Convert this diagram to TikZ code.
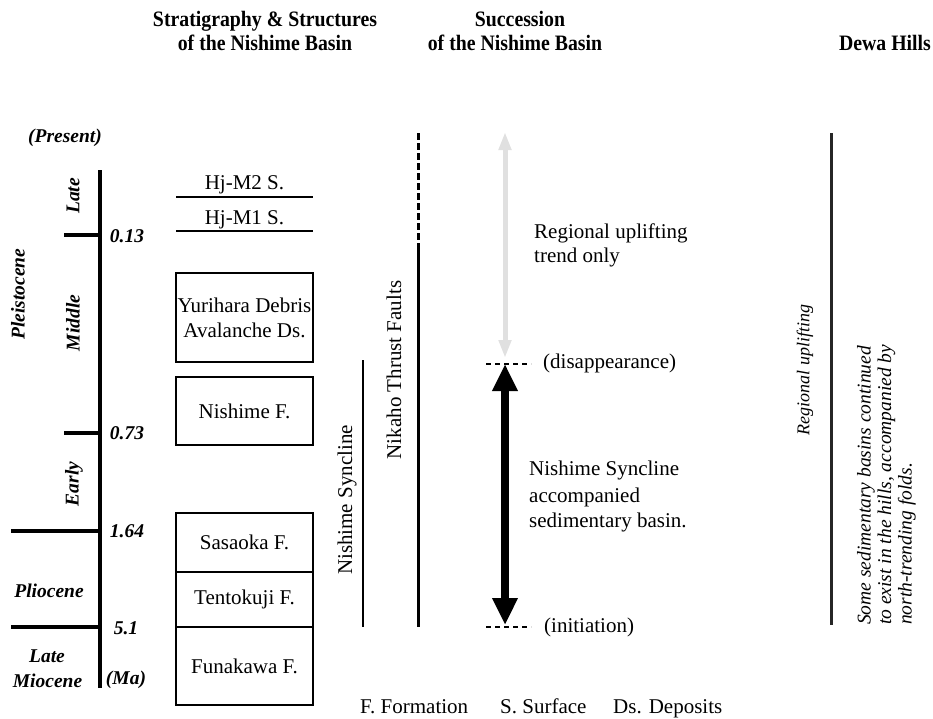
\documentclass[tikz,border=0pt]{standalone}
\usepackage{fontspec}
\setmainfont{Liberation Serif}
\newfontfamily\headfont[FakeStretch=0.9]{Liberation Serif}
\usetikzlibrary{arrows.meta}
\begin{document}
\begin{tikzpicture}[x=1pt,y=-1pt,
  txt/.style={inner sep=0pt, font=\fontsize{21}{25}\selectfont},
  lab/.style={inner sep=0pt, font=\fontsize{19.5}{22}\selectfont\bfseries\itshape},
  head/.style={inner sep=0pt, font=\headfont\bfseries\fontsize{22}{24}\selectfont},
  note/.style={inner sep=0pt, font=\fontsize{18}{20}\selectfont\itshape},
  longnote/.style={inner sep=0pt, align=left, font=\fontsize{19.5}{20.5}\selectfont\itshape},
  box/.style={draw, line width=1.6pt, minimum width=137pt, inner sep=0pt, align=center, font=\fontsize{21}{25}\selectfont},
  axisline/.style={line width=3.5pt},
  thin/.style={line width=1.6pt},
  trend/.style={line width=2.8pt},
  guide/.style={line width=1.5pt, dash pattern=on 5pt off 4pt},
]
\useasboundingbox (0,0) rectangle (933,718);

% headings
\node[head, anchor=base] (h1a) at (265,26) {Stratigraphy \& Structures};
\node[head, anchor=base] (h1b) at (265,50) {of the Nishime Basin};
\node[head, anchor=base] (h2a) at (520,26) {Succession};
\node[head, anchor=base] (h2b) at (515,50) {of the Nishime Basin};
\node[head, anchor=base] (h3) at (885,50) {Dewa Hills};

% time axis
\coordinate (axtop) at (100,170);
\coordinate (axbot) at (100,688);
\draw[axisline] (axtop) -- (axbot);
\coordinate (a013) at (100,235); \coordinate (b013) at (64,235);
\coordinate (a073) at (100,433); \coordinate (b073) at (64,433);
\coordinate (a164) at (100,531); \coordinate (b164) at (11,531);
\coordinate (a51) at (100,627);  \coordinate (b51) at (11,627);
\draw[axisline] (b013) -- (a013);
\draw[axisline] (b073) -- (a073);
\draw[axisline] (b164) -- (a164);
\draw[axisline] (b51) -- (a51);

\node[lab] (present) at (65,138) {(Present)};
\node[lab] (n013) at (127,236) {0.13};
\node[lab] (n073) at (127,433) {0.73};
\node[lab] (n164) at (127,531) {1.64};
\node[lab] (n51) at (126,628) {5.1};
\node[lab] (ma) at (126,680) {(Ma)};
\node[lab, rotate=90] (late) at (73,196) {Late};
\node[lab, rotate=90] (middle) at (73,323) {Middle};
\node[lab, rotate=90] (early) at (74,484) {Early};
\node[lab, rotate=90] (pleist) at (18,294) {Pleistocene};
\node[lab] (plio) at (49,591) {Pliocene};
\node[lab] (latem) at (47,656) {Late};
\node[lab] (mio) at (47.5,681) {Miocene};

% surfaces
\coordinate (s2a) at (176,197); \coordinate (s2b) at (313,197);
\coordinate (s1a) at (176,231); \coordinate (s1b) at (313,231);
\draw[thin] (s2a) -- (s2b);
\draw[thin] (s1a) -- (s1b);
\node[txt, anchor=base] (hjm2) at (244.5,189) {Hj-M2 S.};
\node[txt, anchor=base] (hjm1) at (244.5,224) {Hj-M1 S.};

% formation boxes
\node[box, minimum height=89pt] (yuri) at (244.5,317.5) {Yurihara Debris\\Avalanche Ds.};
\node[box, minimum height=68pt] (nish) at (244.5,411) {Nishime F.};
\node[box, minimum height=59pt] (sasa) at (244.5,542.5) {Sasaoka F.};
\node[box, minimum height=55pt] (tento) at (244.5,599.5) {Tentokuji F.};
\node[box, minimum height=78pt] (funa) at (244.5,666) {Funakawa F.};

% structures
\coordinate (syntop) at (363,360); \coordinate (synbot) at (363,627);
\draw[trend] (syntop) -- (synbot);
\node[txt, rotate=90] (synlab) at (347,500) {Nishime Syncline};
\coordinate (nktop) at (418,133); \coordinate (nkmid) at (418,245); \coordinate (nkbot) at (418,627);
\draw[line width=3pt, dash pattern=on 7pt off 3pt] (nktop) -- (nkmid);
\draw[line width=3pt] (nkmid) -- (nkbot);
\node[txt, rotate=90] (nklab) at (394,370) {Nikaho Thrust Faults};

% succession arrows
\coordinate (gtop) at (505,132); \coordinate (gbot) at (505,358);
\draw[black!12, line width=5pt, {Triangle[width=12pt,length=18pt]}-{Triangle[width=12pt,length=18pt]}] (gbot) -- (gtop);
\coordinate (btop) at (505,364); \coordinate (bbot) at (505,625);
\draw[line width=8pt, {Triangle[width=24pt,length=27pt]}-{Triangle[width=24pt,length=27pt]}] (btop) -- (bbot);
\coordinate (d1a) at (486,364); \coordinate (d1b) at (531,364);
\coordinate (d2a) at (486,627); \coordinate (d2b) at (531,627);
\draw[guide] (d1a) -- (d1b);
\draw[guide] (d2a) -- (d2b);
\node[txt, anchor=west] (disap) at (543,363) {(disappearance)};
\node[txt, anchor=west] (init) at (544,627) {(initiation)};
\node[txt, anchor=base west] (ru1) at (534,238) {Regional uplifting};
\node[txt, anchor=base west] (ru2) at (534,262) {trend only};
\node[txt, anchor=base west] (ns1) at (529,475) {Nishime Syncline};
\node[txt, anchor=base west] (ns2) at (529,502) {accompanied};
\node[txt, anchor=base west] (ns3) at (529,527) {sedimentary basin.};

% legend
\node[txt, anchor=base west] (lf) at (360,713) {F. Formation};
\node[txt, anchor=base west] (ls) at (500,713) {S. Surface};
\node[txt, anchor=base west] (ld) at (613,713) {Ds. Deposits};

% Dewa Hills
\coordinate (dwtop) at (831,133); \coordinate (dwbot) at (831,625);
\draw[line width=3pt, black!85] (dwtop) -- (dwbot);
\node[note, rotate=90] (dwru) at (805,370) {Regional uplifting};
\node[longnote, rotate=90, anchor=west] (dwnote) at (886.5,625) {Some sedimentary basins continued\\to exist in the hills, accompanied by\\north-trending folds.};
\end{tikzpicture}
\end{document}
